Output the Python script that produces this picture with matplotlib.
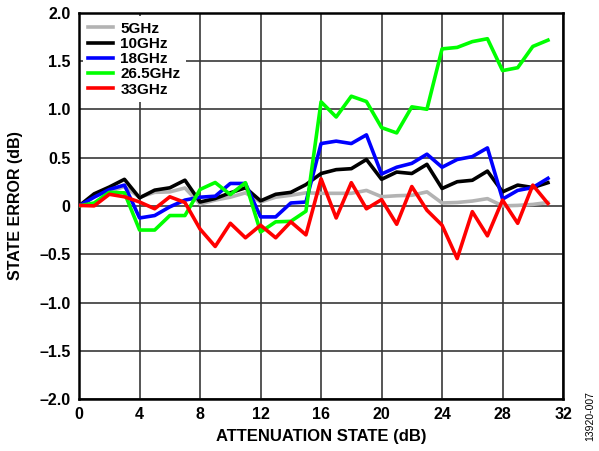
import matplotlib
matplotlib.use('Agg')
import matplotlib.pyplot as plt
import numpy as np

plt.rcParams['font.family'] = ['Liberation Sans', 'DejaVu Sans']
plt.rcParams['font.weight'] = 'bold'

states = list(range(32))

err_5ghz = [0.0, 0.10, 0.15, 0.20, 0.09, 0.14, 0.145, 0.185, 0.02, 0.06, 0.09, 0.135,
            0.04, 0.09, 0.11, 0.135, 0.13, 0.13, 0.13, 0.16, 0.095, 0.105, 0.11, 0.145,
            0.03, 0.035, 0.05, 0.075, 0.0, 0.005, 0.015, 0.035]
err_10ghz = [0.0, 0.125, 0.195, 0.275, 0.083, 0.163, 0.187, 0.266, 0.04, 0.076, 0.135, 0.187,
             0.052, 0.12, 0.14, 0.22, 0.335, 0.375, 0.385, 0.48, 0.275, 0.35, 0.335, 0.43,
             0.18, 0.25, 0.265, 0.36, 0.145, 0.215, 0.19, 0.24]
err_18ghz = [0.0, 0.09, 0.17, 0.215, -0.125, -0.10, -0.01, 0.06, 0.09, 0.10, 0.232, 0.232,
             -0.114, -0.114, 0.03, 0.04, 0.645, 0.67, 0.645, 0.735, 0.33, 0.40, 0.44, 0.535,
             0.40, 0.48, 0.51, 0.60, 0.07, 0.16, 0.19, 0.285]
err_26ghz = [0.0, 0.03, 0.14, 0.135, -0.25, -0.25, -0.10, -0.10, 0.17, 0.242, 0.117, 0.24,
             -0.27, -0.165, -0.16, -0.055, 1.077, 0.92, 1.135, 1.08, 0.81, 0.755, 1.025, 1.0,
             1.625, 1.64, 1.70, 1.73, 1.40, 1.43, 1.65, 1.715]
err_33ghz = [0.005, 0.0, 0.12, 0.094, 0.04, -0.03, 0.094, 0.035, -0.24, -0.42, -0.18, -0.33,
             -0.20, -0.33, -0.165, -0.30, 0.28, -0.125, 0.24, -0.03, 0.065, -0.19, 0.20, -0.045,
             -0.20, -0.545, -0.06, -0.31, 0.06, -0.18, 0.215, 0.025]

series = [('5GHz', err_5ghz, '#b3b3b3'),
          ('10GHz', err_10ghz, '#000000'),
          ('18GHz', err_18ghz, '#0000ff'),
          ('26.5GHz', err_26ghz, '#00ff00'),
          ('33GHz', err_33ghz, '#ff0000')]

x_ticks = list(range(0, 33, 4))
y_ticks = [-2.0, -1.5, -1.0, -0.5, 0.0, 0.5, 1.0, 1.5, 2.0]

fig = plt.figure(figsize=(5.99, 4.51), dpi=100)
ax = fig.add_axes([0.132, 0.115, 0.808, 0.857])

for name, vals, col in series:
    ax.plot(states, vals, color=col, lw=2.6, label=name, zorder=3)

ax.set_xlim(0, 32)
ax.set_ylim(-2.0, 2.0)
ax.set_xticks(x_ticks)
ax.set_yticks(y_ticks)
ax.set_yticklabels(['0' if v == 0 else ('%.1f' % v).replace('-', '\u2013') for v in y_ticks])
ax.tick_params(length=0, labelsize=11.5, pad=6)
ax.grid(True, color='#383838', lw=1.2)
for s in ax.spines.values():
    s.set_linewidth(1.8)
    s.set_color('black')

ax.set_xlabel('ATTENUATION STATE (dB)', fontsize=12, fontweight='bold', labelpad=5)
ax.set_ylabel('STATE ERROR (dB)', fontsize=11.5, fontweight='bold', labelpad=12)

leg = ax.legend(loc='upper left', frameon=True, fancybox=False, framealpha=1,
                edgecolor='none', fontsize=11, handlelength=1.6, handletextpad=0.5,
                labelspacing=0.08, borderpad=0.35, borderaxespad=0.25)
leg.set_zorder(5)
for t in leg.get_texts():
    t.set_fontweight('bold')

fig.text(0.985, 0.022, '13920-007', rotation=90, fontsize=7.5, fontweight='normal',
         ha='center', va='bottom')

fig.savefig('out.png', dpi=100)
